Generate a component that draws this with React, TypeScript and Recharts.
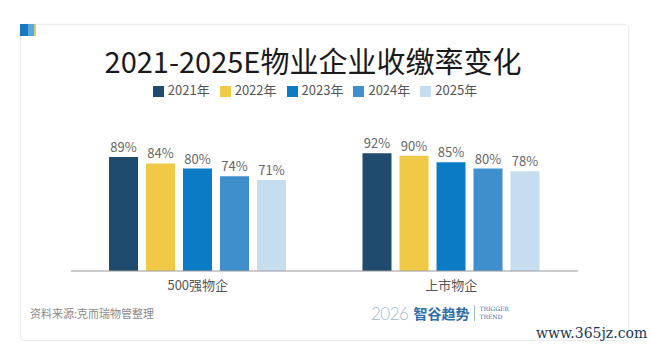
import React from 'react';
import { BarChart, Bar, XAxis, YAxis, Legend, LabelList } from 'recharts';

const categories = ['500强物企', '上市物企'];
const years = ['2021年', '2022年', '2023年', '2024年', '2025年'];
const rate2021 = [89, 92];
const rate2022 = [84, 90];
const rate2023 = [80, 85];
const rate2024 = [74, 80];
const rate2025 = [71, 78];

const colors = ['#1f4c6e', '#f0ca46', '#0b7bc6', '#3f8fcc', '#c6dcef'];
const series = [rate2021, rate2022, rate2023, rate2024, rate2025];

const data = categories.map((name, i) => {
  const row: Record<string, string | number> = { name };
  years.forEach((y, j) => {
    row[y] = series[j][i];
  });
  return row;
});

const font = '"Noto Sans CJK SC", "Noto Sans", sans-serif';

const App = () => {
  return (
    <div style={{ position: 'absolute', left: 0, top: 0, width: 650, height: 351, background: '#fff', fontFamily: font, overflow: 'hidden' }}>
      {/* card */}
      <div style={{ position: 'absolute', left: 20, top: 24, width: 607, height: 315, border: '1px solid #ececec', borderRadius: 4, boxShadow: '0 0 3px rgba(0,0,0,0.05)' }} />
      {/* corner tag */}
      <div style={{ position: 'absolute', left: 20, top: 24, width: 8, height: 12, background: '#1a78c2' }} />
      <div style={{ position: 'absolute', left: 28, top: 24, width: 6, height: 12, background: '#5aa7de' }} />
      <div style={{ position: 'absolute', left: 34, top: 24, width: 2, height: 12, background: '#c9d27a' }} />

      <div style={{ position: 'absolute', left: 0, top: 43, width: 626, textAlign: 'center', fontSize: 29, fontWeight: 400, color: '#1a1a1a', lineHeight: '34px' }}>
        2021-2025E物业企业收缴率变化
      </div>

      <div style={{ position: 'absolute', left: 0, top: 0 }}>
        <BarChart width={650} height={351} data={data} margin={{ top: 125, right: 72, bottom: 50, left: 71 }} barSize={29} barGap={8}>
          <XAxis dataKey="name" axisLine={{ stroke: '#9a9a9a' }} tickLine={false} height={30} tick={{ fill: '#555', fontSize: 13, fontFamily: font }} tickMargin={4} />
          <YAxis hide domain={[0, 100]} />
          <Legend
            verticalAlign="top"
            align="center"
            iconType="square"
            iconSize={11}
            wrapperStyle={{ top: 81, left: 0, width: 640, fontSize: 13, lineHeight: '18px', fontFamily: font }}
            formatter={(v: string) => <span style={{ color: '#555' }}>{v}</span>}
          />
          {years.map((y, j) => (
            <Bar key={y} dataKey={y} fill={colors[j]} isAnimationActive={false}>
              <LabelList dataKey={y} position="top" offset={5} formatter={(v: number) => `${v}%`} fill="#666" fontSize={13} fontFamily={font} />
            </Bar>
          ))}
        </BarChart>
      </div>

      <div style={{ position: 'absolute', left: 30, top: 305, fontSize: 11, color: '#8a8a8a' }}>资料来源:克而瑞物管整理</div>

      <div style={{ position: 'absolute', left: 371, top: 302, display: 'flex', alignItems: 'center', height: 22 }}>
        <span style={{ fontSize: 17, color: '#9fb9cf', fontWeight: 300, fontFamily: 'Lato, sans-serif', letterSpacing: -0.5 }}>2026</span>
        <span style={{ fontSize: 14, color: '#2f6fa8', fontWeight: 700, marginLeft: 5, fontFamily: '"Noto Sans CJK SC", serif' }}>智谷趋势</span>
        <span style={{ width: 1, height: 16, background: '#9fb9cf', marginLeft: 5 }} />
        <span style={{ marginLeft: 4, fontFamily: '"DejaVu Serif", serif', fontSize: 6, color: '#2f6fa8', lineHeight: '8px' }}>TRIGGER<br />TREND</span>
      </div>

      <div style={{ position: 'absolute', left: 536, top: 325, fontSize: 14, color: '#1b3856', fontFamily: '"DejaVu Serif", serif' }}>www.365jz.com</div>
    </div>
  );
};

export default App;
